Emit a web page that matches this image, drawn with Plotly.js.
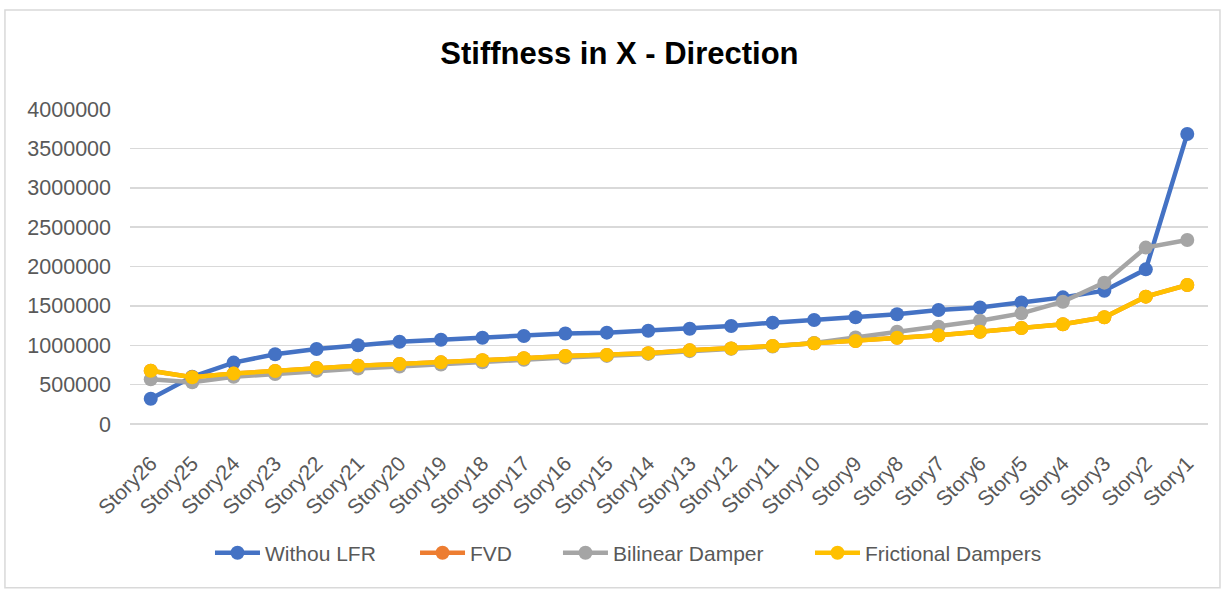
<!DOCTYPE html>
<html>
<head>
<meta charset="utf-8">
<script src="https://cdn.plot.ly/plotly-3.0.1.min.js"></script>
<style>html,body{margin:0;padding:0;background:#fff;}#chart{width:1229px;height:590px;}</style>
</head>
<body>
<div id="chart"></div>
<script>
const stories = ["Story26","Story25","Story24","Story23","Story22","Story21","Story20","Story19","Story18","Story17","Story16","Story15","Story14","Story13","Story12","Story11","Story10","Story9","Story8","Story7","Story6","Story5","Story4","Story3","Story2","Story1"];
const withoutLFR = [320000,600000,780000,885000,952000,1000000,1045000,1070000,1096000,1117000,1150000,1160000,1185000,1210000,1245000,1287000,1320000,1355000,1393000,1448000,1480000,1544000,1608000,1693000,1964000,3683000];
const fvd = [677000,593000,640000,673000,711000,740000,762000,783000,809000,834000,863000,876000,900000,935000,960000,990000,1025000,1054000,1096000,1126000,1172000,1219000,1266000,1355000,1617000,1765000];
const bilinear = [567000,530000,600000,635000,675000,705000,730000,755000,785000,815000,845000,865000,890000,925000,955000,985000,1030000,1100000,1172000,1236000,1312000,1405000,1553000,1795000,2240000,2337000];
const frictional = [677000,593000,640000,673000,711000,740000,762000,783000,809000,834000,863000,876000,900000,935000,960000,990000,1025000,1054000,1096000,1126000,1172000,1219000,1266000,1355000,1617000,1765000];
const yTicks = [0,500000,1000000,1500000,2000000,2500000,3000000,3500000,4000000];

const FONT = "Liberation Sans, Arial, sans-serif";
function tr(name, y, color, leg){
  return {type:"scatter", mode:"lines+markers", name:name, x:stories, y:y, legend:leg,
    line:{color:color, width:4.5}, marker:{color:color, size:14, symbol:"circle"}};
}
const data = [
  tr("Withou LFR", withoutLFR, "#4472C4", "legend"),
  tr("FVD", fvd, "#ED7D31", "legend2"),
  tr("Bilinear Damper", bilinear, "#A5A5A5", "legend3"),
  tr("Frictional Dampers", frictional, "#FFC000", "legend4")
];
function leg(x){
  return {orientation:"h", x:x, xanchor:"left", y:-0.41, yanchor:"middle", itemwidth:45,
    font:{family:FONT, size:21, color:"#595959"}, bgcolor:"rgba(0,0,0,0)", borderwidth:0};
}
const layout = {
  width:1229, height:590,
  margin:{l:130, r:21, t:109, b:166},
  paper_bgcolor:"#fff", plot_bgcolor:"#fff",
  font:{family:FONT, color:"#595959", size:21},
  title:{text:"<b>Stiffness in X - Direction</b>", font:{family:FONT, size:31, color:"#000"},
    x:0.504, xanchor:"center", y:0.91, yanchor:"middle"},
  xaxis:{type:"category", range:[-0.5,25.5], showgrid:false, zeroline:false, showline:false,
    tickangle:-45, tickfont:{family:FONT, size:21, color:"#595959"}, ticks:"", ticklabelstandoff:22, automargin:false},
  yaxis:{range:[0,4000000], tickvals:yTicks, ticktext:yTicks.map(String), showgrid:true,
    gridcolor:"#d9d9d9", gridwidth:1.5, zeroline:true, zerolinecolor:"#d9d9d9", zerolinewidth:1.5,
    showline:false, ticks:"", ticklabelstandoff:18, tickfont:{family:FONT, size:21.5, color:"#595959"}, automargin:false},
  showlegend:true,
  legend:leg(0.0742), legend2:leg(0.2644), legend3:leg(0.397), legend4:leg(0.6308),
  shapes:[{type:"rect", xref:"paper", yref:"paper", x0:-0.116, x1:1.0111, y0:-0.52, y1:1.314,
    line:{color:"#d9d9d9", width:1.5}, fillcolor:"rgba(0,0,0,0)", layer:"below"}]
};
Plotly.newPlot("chart", data, layout, {displayModeBar:false, staticPlot:true});
</script>
</body>
</html>
